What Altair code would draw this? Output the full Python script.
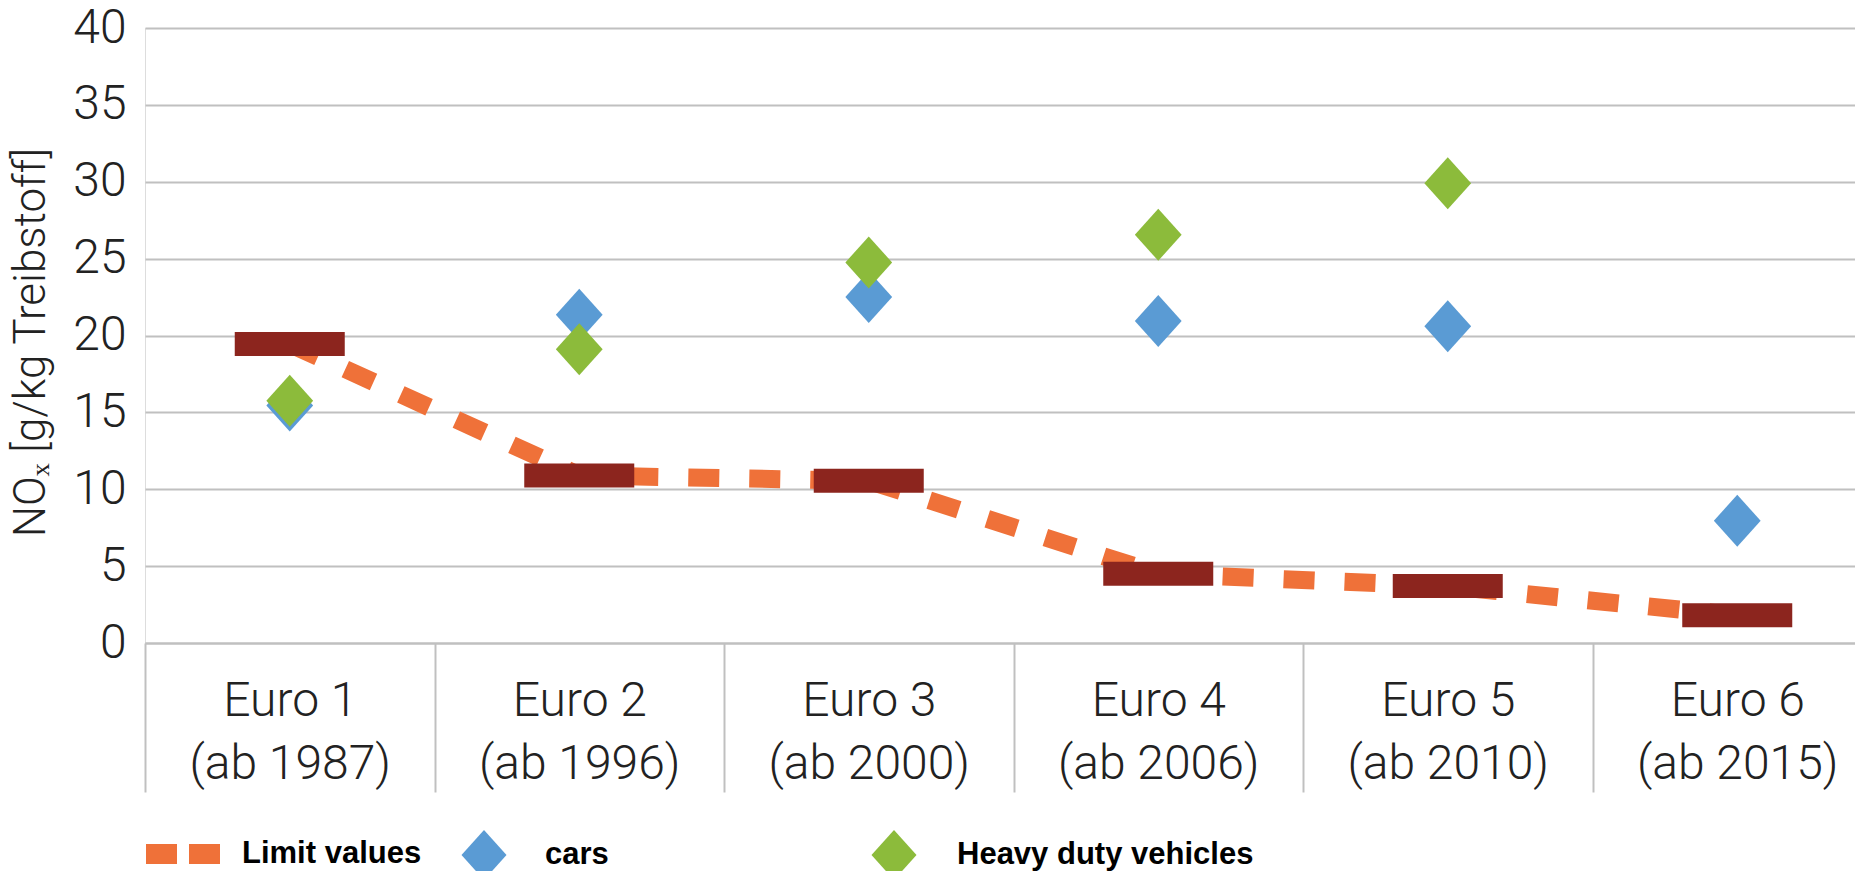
import altair as alt
import pandas as pd

categories = ["Euro 1", "Euro 2", "Euro 3", "Euro 4", "Euro 5", "Euro 6"]
years = ["(ab 1987)", "(ab 1996)", "(ab 2000)", "(ab 2006)", "(ab 2010)", "(ab 2015)"]
limit_values = [19.45, 10.9, 10.55, 4.5, 3.7, 1.8]
cars = [15.45, 21.35, 22.5, 20.95, 20.6, 7.95]
heavy_duty = [15.75, 19.1, 24.75, 26.55, 29.9, None]
y_ticks = [0, 5, 10, 15, 20, 25, 30, 35, 40]

idx = list(range(1, len(categories) + 1))
df_limit = pd.DataFrame({"idx": idx, "value": limit_values, "series": "Limit values"})
df_cars = pd.DataFrame({"idx": idx, "value": cars, "series": "cars"})
df_hdv = pd.DataFrame({"idx": idx, "value": heavy_duty, "series": "Heavy duty vehicles"}).dropna()

ORANGE = "#ef7139"
BLUE = "#5a9bd4"
GREEN = "#8cbb3b"
DARKRED = "#8c251e"
GRID = "#c0c0c0"
TXT = "#222222"
FONT = "Roboto"
LEGFONT = "Liberation Sans"
DIAMOND = "M0,-1L0.9,0L0,1L-0.9,0Z"

W, H = 1710, 615
BAND = 289.5

label_expr = "".join(
    f"datum.value == {i} ? ['{c}', '{y}'] : " for i, c, y in zip(idx, categories, years)
) + "''"

X = alt.X(
    "idx:Q",
    scale=alt.Scale(domain=[0.5, 0.5 + W / BAND], nice=False, zero=False),
    axis=alt.Axis(
        values=idx,
        labelExpr=label_expr,
        grid=False,
        domain=True,
        domainColor=GRID,
        domainWidth=2,
        ticks=True,
        tickSize=149,
        tickColor=GRID,
        tickWidth=2,
        tickOffset=-BAND / 2,
        labelOffset=BAND / 2,
        labelPadding=-115,
        labelBaseline="top",
        labelFont=FONT,
        labelFontWeight=300,
        labelFontSize=48,
        labelColor=TXT,
        labelLineHeight=63,
        labelFlush=False,
        labelOverlap=False,
        labelLimit=500,
        title=None,
    ),
)

Y = alt.Y(
    "value:Q",
    scale=alt.Scale(domain=[0, 40], nice=False),
    axis=alt.Axis(
        values=y_ticks,
        grid=True,
        gridColor=GRID,
        gridWidth=2,
        domain=False,
        ticks=False,
        labelPadding=19,
        labelFont=FONT,
        labelFontWeight=300,
        labelFontSize=48,
        labelColor=TXT,
        title="NOₓ [g/kg Treibstoff]",
        titleFont=FONT,
        titleFontWeight=300,
        titleFontSize=44,
        titleColor=TXT,
        titleAngle=270,
        titleAlign="center",
        titleBaseline="middle",
        titleX=-114,
        titleY=314,
    ),
)

leg_common = dict(
    orient="none",
    title=None,
    labelFont=LEGFONT,
    labelFontSize=31,
    labelFontWeight="bold",
    labelColor="black",
    labelLimit=600,
    padding=0,
)

line = alt.Chart(df_limit).mark_line(
    strokeDash=[31, 30], strokeWidth=18, strokeCap="butt"
).encode(
    x=X,
    y=Y,
    color=alt.Color(
        "series:N",
        scale=alt.Scale(domain=["Limit values"], range=[ORANGE]),
        legend=alt.Legend(
            legendX=-9,
            legendY=779,
            symbolType="stroke",
            symbolStrokeWidth=20,
            symbolDash=[31, 12],
            symbolSize=5476,
            labelOffset=12,
            **leg_common,
        ),
    ),
)

bars = alt.Chart(df_limit).mark_tick(
    orient="horizontal", size=110, thickness=24, color=DARKRED, opacity=1
).encode(x=X, y=Y)

cars_layer = alt.Chart(df_cars).mark_point(
    shape=DIAMOND, filled=True, size=2704, opacity=1, strokeWidth=0
).encode(
    x=X,
    y=Y,
    color=alt.Color(
        "series:N",
        scale=alt.Scale(domain=["cars"], range=[BLUE]),
        legend=alt.Legend(
            legendX=314,
            legendY=802,
            symbolType=DIAMOND,
            symbolSize=2500,
            symbolStrokeWidth=0,
            labelOffset=36,
            **leg_common,
        ),
    ),
)

hdv_layer = alt.Chart(df_hdv).mark_point(
    shape=DIAMOND, filled=True, size=2704, opacity=1, strokeWidth=0
).encode(
    x=X,
    y=Y,
    color=alt.Color(
        "series:N",
        scale=alt.Scale(domain=["Heavy duty vehicles"], range=[GREEN]),
        legend=alt.Legend(
            legendX=724,
            legendY=802,
            symbolType=DIAMOND,
            symbolSize=2500,
            symbolStrokeWidth=0,
            labelOffset=38,
            **leg_common,
        ),
    ),
)

chart = (
    alt.layer(line, bars, cars_layer, hdv_layer)
    .resolve_scale(color="independent")
    .properties(
        width=W,
        height=H,
        autosize=alt.AutoSizeParams(type="none"),
        padding={"left": 137, "top": 20, "right": 0, "bottom": 228},
    )
    .configure_view(stroke=None)
    .configure(background="white")
)

chart.save("out.html", embed_options={"renderer": "svg", "actions": False})
